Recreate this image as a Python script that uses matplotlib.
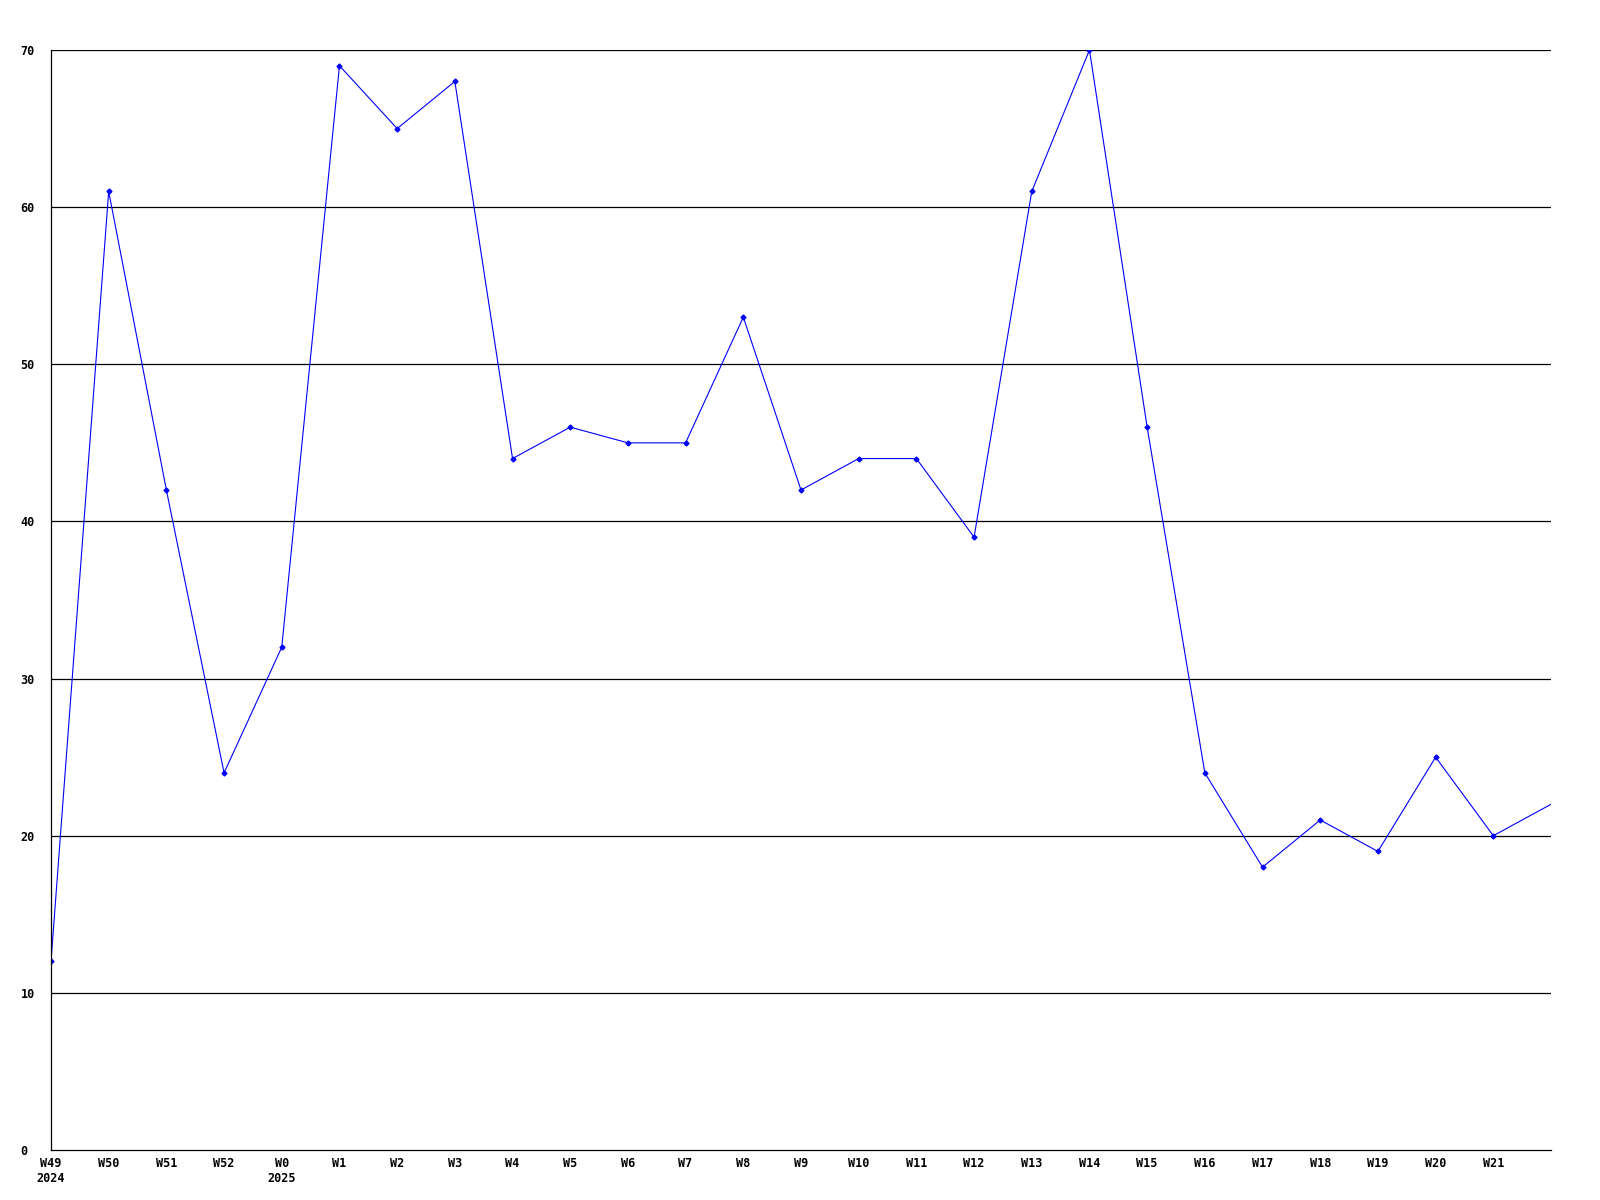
import matplotlib
matplotlib.use('Agg')
import matplotlib.pyplot as plt

# weekly values
weeks = ['W49\n2024', 'W50', 'W51', 'W52', 'W0\n2025', 'W1', 'W2', 'W3', 'W4', 'W5',
         'W6', 'W7', 'W8', 'W9', 'W10', 'W11', 'W12', 'W13', 'W14', 'W15',
         'W16', 'W17', 'W18', 'W19', 'W20', 'W21', '']
values = [12, 61, 42, 24, 32, 69, 65, 68, 44, 46,
          45, 45, 53, 42, 44, 44, 39, 61, 70, 46,
          24, 18, 21, 19, 25, 20, 22]
yticks = [0, 10, 20, 30, 40, 50, 60, 70]

fig = plt.figure(figsize=(16, 12), dpi=100)
ax = fig.add_axes([51 / 1600, 50 / 1200, 1500 / 1600, 1100 / 1200])

x = list(range(len(values)))
ax.plot(x, values, color='#0000ff', linewidth=0.8, marker='D', markersize=2.5,
        markevery=list(range(len(values) - 1)), clip_on=True)

ax.set_xlim(0, len(values) - 1)
ax.set_ylim(0, 70)
ax.set_yticks(yticks)
ax.set_xticks(x)
ax.set_xticklabels(weeks)

for t in yticks[1:]:
    ax.axhline(t, color='black', linewidth=0.9, zorder=0)

for s in ['top', 'right']:
    ax.spines[s].set_visible(False)
for s in ['left', 'bottom']:
    ax.spines[s].set_color('black')
    ax.spines[s].set_linewidth(0.9)

ax.tick_params(axis='both', length=0)
ax.tick_params(axis='y', pad=22)
ax.tick_params(axis='x', pad=5)
for lab in ax.get_yticklabels():
    lab.set_horizontalalignment('left')
    lab.set_fontfamily('DejaVu Sans Mono')
    lab.set_fontweight('bold')
    lab.set_fontsize(8.5)
for lab in ax.get_xticklabels():
    lab.set_fontfamily('DejaVu Sans Mono')
    lab.set_fontweight('bold')
    lab.set_fontsize(8.5)
    lab.set_linespacing(1.25)
    lab.set_verticalalignment('top')

fig.savefig('out.png', dpi=100, facecolor='white')
